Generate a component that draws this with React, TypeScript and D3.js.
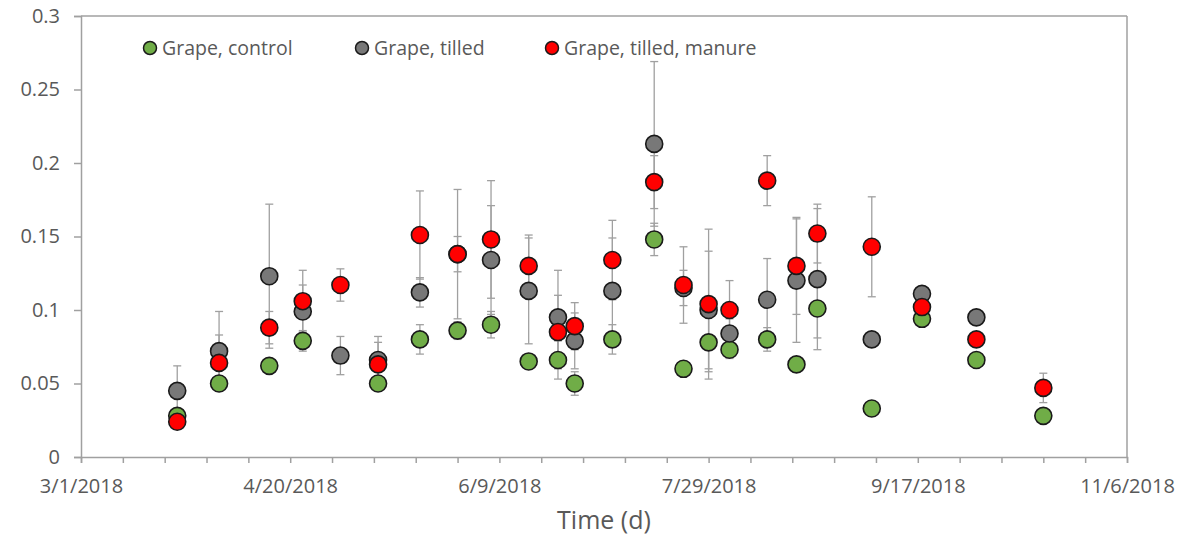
import { useRef, useEffect } from 'react'
import { select, scaleUtc, scaleLinear, axisBottom, axisLeft, utcParse, utcDay, range } from 'd3'

// sampling dates and mean values
const dates = [
  '3/24/2018', '4/3/2018', '4/15/2018', '4/23/2018', '5/2/2018', '5/11/2018',
  '5/21/2018', '5/30/2018', '6/7/2018', '6/16/2018', '6/23/2018', '6/27/2018',
  '7/6/2018', '7/16/2018', '7/23/2018', '7/29/2018', '8/3/2018', '8/12/2018',
  '8/19/2018', '8/24/2018', '9/6/2018', '9/18/2018', '10/1/2018', '10/17/2018',
]

const control = [
  0.028, 0.05, 0.062, 0.079, null, 0.05, 0.08, 0.086, 0.09, 0.065, 0.066, 0.05,
  0.08, 0.148, 0.06, 0.078, 0.073, 0.08, 0.063, 0.101, 0.033, 0.094, 0.066, 0.028,
]
const controlSd = [
  0.002, 0.003, 0.004, 0.007, null, 0.003, 0.01, 0.006, 0.009, 0.004, 0.013, 0.008,
  0.01, 0.011, 0.004, 0.02, 0.006, 0.008, 0.005, 0.02, 0.003, 0.003, 0.003, 0.004,
]

const tilled = [
  0.045, 0.072, 0.123, 0.099, 0.069, 0.066, 0.112, 0.138, 0.134, 0.113, 0.095, 0.079,
  0.113, 0.213, 0.115, 0.1, 0.084, 0.107, 0.12, 0.121, 0.08, 0.111, 0.095, null,
]
const tilledSd = [
  0.017, 0.027, 0.049, 0.018, 0.013, 0.016, 0.01, 0.012, 0.037, 0.036, 0.032, 0.019,
  0.036, 0.056, 0.012, 0.04, 0.01, 0.028, 0.042, 0.048, 0.003, 0.004, 0.003, null,
]

const manure = [
  0.024, 0.064, 0.088, 0.106, 0.117, 0.063, 0.151, 0.138, 0.148, 0.13, 0.085, 0.089,
  0.134, 0.187, 0.117, 0.104, 0.1, 0.188, 0.13, 0.152, 0.143, 0.102, 0.08, 0.047,
]
const manureSd = [
  0.003, 0.019, 0.011, 0.021, 0.011, 0.015, 0.03, 0.044, 0.04, 0.021, 0.025, 0.016,
  0.027, 0.018, 0.026, 0.051, 0.02, 0.017, 0.033, 0.02, 0.034, 0.003, 0.003, 0.01,
]

const seriesNames = ['Grape, control', 'Grape, tilled', 'Grape, tilled, manure']
const seriesColors = ['#70ad47', '#787878', '#ff0000']

const yTicks = [0, 0.05, 0.1, 0.15, 0.2, 0.25, 0.3]
const xStart = '3/1/2018'
const xEnd = '11/6/2018'
const xTitle = 'Time (d)'

const FONT = '"Open Sans", sans-serif'
const TEXT = '#595959'
const LINE = '#a0a0a0'

const App = () => {
  const svgRef = useRef(null)

  useEffect(() => {
    const svg = select(svgRef.current)
    svg.selectAll('*').remove()

    const margin = { top: 16, right: 75, bottom: 81, left: 81 }
    const width = 1202
    const height = 538
    const innerWidth = width - margin.left - margin.right
    const innerHeight = height - margin.top - margin.bottom

    const parse = utcParse('%m/%d/%Y')
    const t0 = parse(xStart)
    const t1 = parse(xEnd)

    const xScale = scaleUtc().domain([t0, t1]).range([0, innerWidth])
    const yScale = scaleLinear().domain([0, 0.3]).range([innerHeight, 0])

    const g = svg.append('g').attr('transform', `translate(${margin.left},${margin.top})`)

    // frame: top and right edges
    g.append('line').attr('x1', 0).attr('x2', innerWidth).attr('y1', 0).attr('y2', 0)
      .attr('stroke', LINE).attr('stroke-width', 1.5)
    g.append('line').attr('x1', innerWidth).attr('x2', innerWidth).attr('y1', 0).attr('y2', innerHeight)
      .attr('stroke', LINE).attr('stroke-width', 1.5)

    // x axis: minor tick every 10 days, label every 50
    const xTickValues = range(0, 251, 10).map((d) => utcDay.offset(t0, d))
    const fmt = (d) => `${d.getUTCMonth() + 1}/${d.getUTCDate()}/${d.getUTCFullYear()}`
    const xAxis = axisBottom(xScale)
      .tickValues(xTickValues)
      .tickSize(6)
      .tickPadding(16)
      .tickFormat((d, i) => (i % 5 === 0 ? fmt(d) : ''))
    const xAxisGroup = g.append('g').attr('transform', `translate(0,${innerHeight})`).call(xAxis)

    const yAxis = axisLeft(yScale)
      .tickValues(yTicks)
      .tickSize(7)
      .tickPadding(14)
      .tickFormat((d) => String(+(+d).toFixed(2)))
    const yAxisGroup = g.append('g').call(yAxis)

    for (const ax of [xAxisGroup, yAxisGroup]) {
      ax.selectAll('.domain, .tick line').attr('stroke', LINE).attr('stroke-width', 1.5)
      ax.selectAll('text').attr('fill', TEXT).attr('font-size', 20).attr('font-family', FONT)
    }

    g.append('text')
      .text(xTitle)
      .attr('x', innerWidth / 2)
      .attr('y', innerHeight + 72)
      .attr('text-anchor', 'middle')
      .attr('fill', TEXT)
      .attr('font-size', 25)
      .attr('font-family', FONT)

    const allSeries = [
      { values: control, sd: controlSd },
      { values: tilled, sd: tilledSd },
      { values: manure, sd: manureSd },
    ]

    // error bars first
    const errGroup = g.append('g')
    allSeries.forEach((s) => {
      dates.forEach((ds, i) => {
        const v = s.values[i]
        const e = s.sd[i]
        if (v == null || e == null) return
        const x = xScale(parse(ds))
        const yTop = yScale(v + e)
        const yBot = yScale(v - e)
        errGroup.append('line').attr('x1', x).attr('x2', x).attr('y1', yTop).attr('y2', yBot)
          .attr('stroke', LINE).attr('stroke-width', 1.3)
        for (const yy of [yTop, yBot]) {
          errGroup.append('line').attr('x1', x - 4).attr('x2', x + 4).attr('y1', yy).attr('y2', yy)
            .attr('stroke', LINE).attr('stroke-width', 1.3)
        }
      })
    })

    // markers
    allSeries.forEach((s, si) => {
      const pts = dates
        .map((ds, i) => ({ date: parse(ds), v: s.values[i] }))
        .filter((p) => p.v != null)
      g.append('g')
        .selectAll('circle')
        .data(pts)
        .join('circle')
        .attr('cx', (p) => xScale(p.date))
        .attr('cy', (p) => yScale(p.v))
        .attr('r', 8.5)
        .attr('fill', seriesColors[si])
        .attr('stroke', '#1a1a1a')
        .attr('stroke-width', 1.6)
    })

    // legend
    const legendX = [150, 362, 552]
    seriesNames.forEach((name, i) => {
      const lg = svg.append('g').attr('transform', `translate(${legendX[i]},48)`)
      lg.append('circle').attr('r', 6.5).attr('fill', seriesColors[i])
        .attr('stroke', '#1a1a1a').attr('stroke-width', 1.5)
      lg.append('text').text(name).attr('x', 12).attr('y', 6.5)
        .attr('fill', TEXT).attr('font-size', 19.5).attr('font-family', FONT)
    })
  }, [])

  return (
    <div>
      <svg
        ref={svgRef}
        width="1202"
        height="538"
        style={{ position: 'fixed', left: 0, top: 0, background: '#fff' }}
      ></svg>
    </div>
  )
}

export default App
